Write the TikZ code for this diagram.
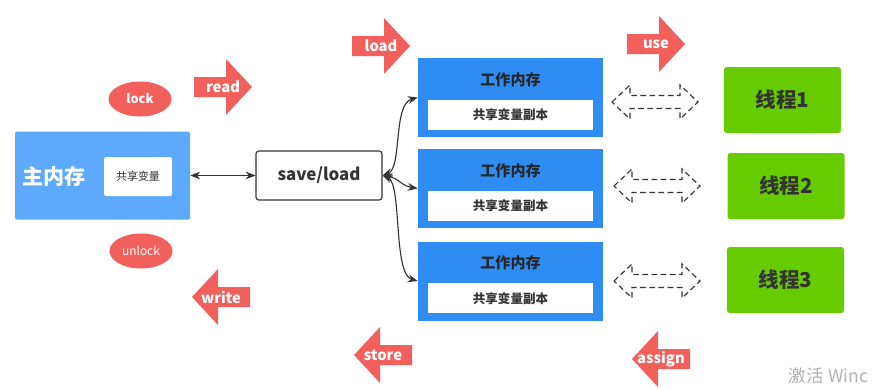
\documentclass[tikz,border=0pt]{standalone}
\usepackage{fontspec}
\setmainfont{Noto Sans CJK SC}
\usetikzlibrary{positioning, arrows.meta, calc, shapes.geometric}
\definecolor{mainblue}{HTML}{5DA9FB}
\definecolor{workblue}{HTML}{2E8CF2}
\definecolor{blockred}{HTML}{F2605D}
\definecolor{threadgreen}{HTML}{66CC00}
\definecolor{inkgray}{HTML}{333333}
\newcommand\pxu{0.025cm}
\newcommand\fsz[1]{\fontsize{#1}{#1}\selectfont}
\tikzset{
  mainbox/.style={fill=mainblue, rounded corners=1.5pt, minimum width=175*\pxu, minimum height=88*\pxu},
  varbox/.style={fill=white, rounded corners=1.5pt, minimum width=68*\pxu, minimum height=39*\pxu, text=inkgray, font=\fsz{7.8}},
  lockoval/.style={ellipse, fill=blockred, minimum width=63*\pxu, minimum height=35*\pxu, inner sep=0pt, text=white, font=\fsz{9}\bfseries},
  savebox/.style={draw=inkgray, line width=0.8pt, fill=white, rounded corners=2pt, minimum width=126*\pxu, minimum height=49*\pxu, text=inkgray, font=\fsz{12}\bfseries},
  workbox/.style={fill=workblue, minimum width=185*\pxu, minimum height=79*\pxu},
  worktitle/.style={text=black!85, font=\fsz{10.7}\bfseries},
  copybox/.style={fill=white, minimum width=165*\pxu, minimum height=30*\pxu, text=inkgray, font=\fsz{8.9}\bfseries},
  threadbox/.style={fill=threadgreen, rounded corners=2pt, minimum width=117*\pxu, minimum height=66*\pxu, text=inkgray, font=\fsz{14.6}\bfseries},
  blocklabel/.style={text=white, font=\fsz{10.5}\bfseries, inner sep=0pt},
  conn/.style={{Stealth[length=7pt,width=5.5pt]}-{Stealth[length=7pt,width=5.5pt]}, draw=inkgray, line width=0.8pt},
  pics/blockarrow/.style={code={
    \fill[blockred] (-58,-10) -- (-26,-10) -- (-26,-28) -- (0,0) -- (-26,28) -- (-26,10) -- (-58,10) -- cycle;
    \node[blocklabel] at (-29,0) {#1};
  }},
  pics/dashdbl/.style={code={
    \draw[inkgray, line width=0.8pt, dash pattern=on 4pt off 2.5pt] (-43,0) -- (-25,-17) -- (-25,-6.5) -- (25,-6.5) -- (25,-17) -- (43,0)
      -- (25,17) -- (25,6.5) -- (-25,6.5) -- (-25,17) -- cycle;
  }}
}
\begin{document}
\begin{tikzpicture}[x=0.025cm, y=-0.025cm]
  \useasboundingbox (0,0) rectangle (879,389);
  \fill[white] (0,0) rectangle (879,389);
  % Hauptspeicher
  \node[mainbox] (main) at (102.5,175.5) {};
  \node[text=white, font=\fsz{15}\bfseries] (maintitle) at (54,176) {主内存};
  \node[varbox] (mainvar) at (138,176.5) {共享变量};
  \node[lockoval] (lock) at (140,99) {lock};
  \node[lockoval, font=\fsz{8.5}] (unlock) at (141,251) {unlock};
  % save/load
  \node[savebox] (save) at (319,175.5) {save/load};
  \draw[conn] (main.east) -- (save.west);
  % Arbeitsspeicher und Threads
  \foreach \i/\y in {1/97.5, 2/188.5, 3/281} {
    \node[workbox] (work\i) at (510.5,\y) {};
    \node[worktitle] (worktitle\i) at ($(work\i.north)+(0,22)$) {工作内存};
    \node[copybox] (copy\i) at ($(work\i.north)+(0,57)$) {共享变量副本};
  }
  \foreach \i/\x/\y in {1/782.5/100, 2/786/186, 3/785.5/280}
    \node[threadbox] (thread\i) at (\x,\y) {线程\i};
  \foreach \x/\y in {655/102, 657/186, 657/281}
    \pic at (\x,\y) {dashdbl};
  \draw[conn] (save.east) .. controls (402,168) and (393,104) .. (work1.west);
  \draw[conn] (save.east) .. controls (398,178) and (402,186) .. (work2.west);
  \draw[conn] (save.east) .. controls (402,184) and (393,274) .. (work3.west);
  % Operationen
  \pic at (252,87) {blockarrow=read};
  \pic at (410,46) {blockarrow=load};
  \pic at (685,44) {blockarrow=use};
  \pic[xscale=-1] at (192,297) {blockarrow=write};
  \pic[xscale=-1] at (354,355) {blockarrow=store};
  \pic[xscale=-1] at (632,359) {blockarrow=assign};
  \node[anchor=west, text=black!30, font=\fsz{12.5}] (mark) at (784,376) {激活 Winc};
\end{tikzpicture}
\end{document}
